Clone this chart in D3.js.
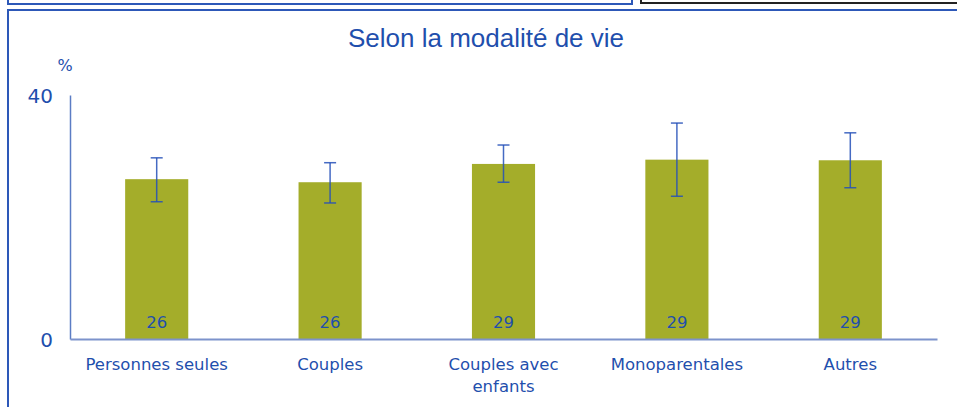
<!DOCTYPE html>
<html>
<head>
<meta charset="utf-8">
<script src="https://cdn.jsdelivr.net/npm/d3@7"></script>
<style>
  html, body { margin: 0; padding: 0; background: #fff; }
  svg { display: block; }
</style>
</head>
<body>
<svg id="chart" width="957" height="407"></svg>
<script>
// Share (%) by household type, with confidence interval bounds
const categories = ["Personnes seules", "Couples", "Couples avec enfants", "Monoparentales", "Autres"];
const categoryLines = [["Personnes seules"], ["Couples"], ["Couples avec", "enfants"], ["Monoparentales"], ["Autres"]];
const values = [26.2, 25.7, 28.7, 29.4, 29.3];
const lowerBounds = [22.5, 22.3, 25.7, 23.4, 24.8];
const upperBounds = [29.7, 28.9, 31.8, 35.4, 33.8];
const yTicks = [0, 40];

const blue = "#1f4fad";
const frameBlue = "#2d58b8";
const barColor = "#a4ad2a";
const font = "DejaVu Sans, Verdana, sans-serif";

const svg = d3.select("#chart");

// Surrounding panel frames
svg.append("rect").attr("x", 8).attr("y", -10).attr("width", 624).attr("height", 14)
  .attr("fill", "none").attr("stroke", frameBlue).attr("stroke-width", 2);
svg.append("rect").attr("x", 641).attr("y", -10).attr("width", 330).attr("height", 13)
  .attr("fill", "none").attr("stroke", "#222").attr("stroke-width", 2);
svg.append("rect").attr("x", 8).attr("y", 10).attr("width", 970).attr("height", 420)
  .attr("fill", "none").attr("stroke", frameBlue).attr("stroke-width", 2);

const x = d3.scaleBand().domain(categories).range([70, 937]).paddingInner(0.636).paddingOuter(0.318);
const y = d3.scaleLinear().domain([0, 40]).range([339, 95]);

// Title
svg.append("text").attr("x", 486).attr("y", 47).attr("text-anchor", "middle")
  .attr("font-family", "Liberation Sans, Arial, sans-serif").attr("font-size", 26)
  .attr("fill", blue).text("Selon la modalité de vie");

// Unit
svg.append("text").attr("x", 65).attr("y", 71).attr("text-anchor", "middle")
  .attr("font-family", font).attr("font-size", 16)
  .attr("fill", blue).text("%");

// Bars
const g = svg.append("g");
g.selectAll("rect.bar").data(categories).join("rect").attr("class", "bar")
  .attr("x", d => x(d)).attr("width", x.bandwidth())
  .attr("y", (d, i) => y(values[i])).attr("height", (d, i) => y(0) - y(values[i]))
  .attr("fill", barColor);

// Y axis
const yAxis = svg.append("g").attr("transform", "translate(70,0)")
  .call(d3.axisLeft(y).tickValues(yTicks).tickSize(0).tickPadding(17));
yAxis.select(".domain").attr("stroke", "#5b7cc4").attr("stroke-width", 1.5);
yAxis.selectAll("text").attr("font-family", font)
  .attr("font-size", 20).attr("fill", blue).attr("dy", "0.36em");

// X axis baseline
const xAxis = svg.append("g").attr("transform", `translate(0,${y(0)})`)
  .call(d3.axisBottom(x).tickSize(0).tickFormat(""));
xAxis.select(".domain").attr("stroke", "#7d93cc").attr("stroke-width", 2);

// Category labels
const lab = svg.append("g").selectAll("text").data(categories).join("text")
  .attr("x", d => x(d) + x.bandwidth() / 2).attr("y", 370)
  .attr("text-anchor", "middle")
  .attr("font-family", font).attr("font-size", 16.5)
  .attr("fill", blue);
lab.each(function (d, i) {
  d3.select(this).selectAll("tspan").data(categoryLines[i]).join("tspan")
    .attr("x", x(d) + x.bandwidth() / 2).attr("dy", (t, j) => j === 0 ? 0 : 22).text(t => t);
});

// Error bars
const eb = svg.append("g").attr("stroke", "#2550b8").attr("stroke-width", 1.5).attr("stroke-opacity", 0.85);
categories.forEach((c, i) => {
  const cx = x(c) + x.bandwidth() / 2;
  eb.append("line").attr("x1", cx).attr("x2", cx).attr("y1", y(upperBounds[i])).attr("y2", y(lowerBounds[i]));
  eb.append("line").attr("x1", cx - 6).attr("x2", cx + 6).attr("y1", y(upperBounds[i])).attr("y2", y(upperBounds[i]));
  eb.append("line").attr("x1", cx - 6).attr("x2", cx + 6).attr("y1", y(lowerBounds[i])).attr("y2", y(lowerBounds[i]));
});

// Value labels inside bars
svg.append("g").selectAll("text").data(categories).join("text")
  .attr("x", d => x(d) + x.bandwidth() / 2).attr("y", 328)
  .attr("text-anchor", "middle")
  .attr("font-family", font).attr("font-size", 16.5)
  .attr("fill", blue).text((d, i) => d3.format(".0f")(values[i]));
</script>
</body>
</html>
